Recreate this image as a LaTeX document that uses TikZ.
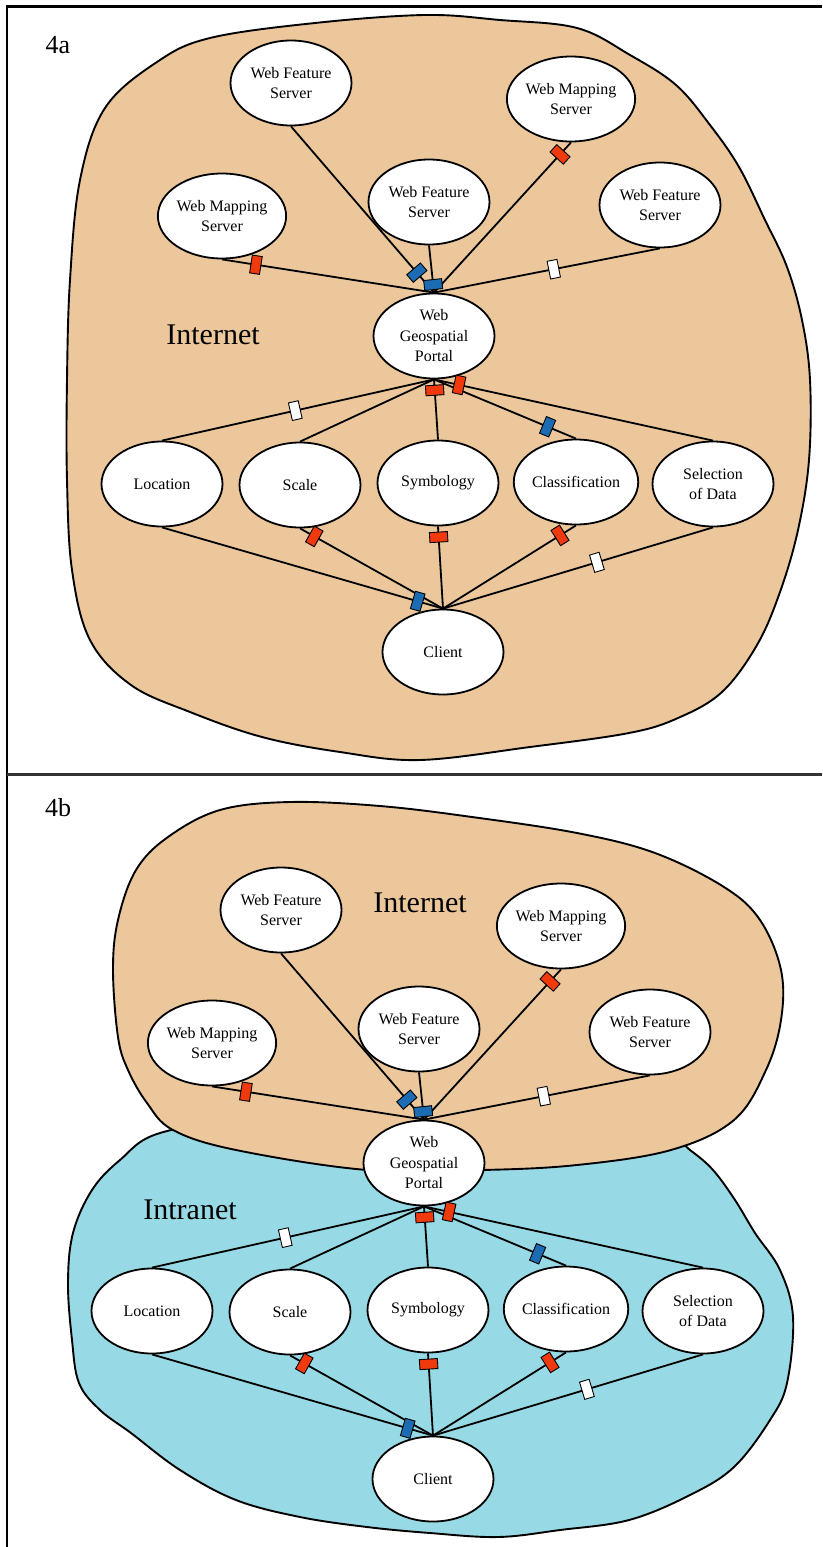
\documentclass[tikz,border=0pt]{standalone}
\usepackage{fontspec}
\setmainfont{Liberation Serif}
\usepackage{tikz}
\usetikzlibrary{shapes.geometric}

\definecolor{netorange}{RGB}{236,199,156}
\definecolor{lanblue}{RGB}{151,218,230}
\definecolor{tabred}{RGB}{240,58,14}
\definecolor{tabblue}{RGB}{28,108,180}

\begin{document}
\begin{tikzpicture}[x=1pt, y=-1pt,
    site/.style={ellipse, draw, line width=1.8pt, fill=white, inner sep=0pt,
      minimum width=121pt, minimum height=85pt, align=center,
      font=\fontsize{16}{20.5}\selectfont},
    cloud/.style={draw, line width=1.9pt},
    link/.style={line width=1.8pt},
    linkbox/.style={draw, line width=0.9pt, inner sep=0pt, sloped,
      minimum width=10pt, minimum height=18pt},
    redbox/.style={linkbox, fill=tabred},
    bluebox/.style={linkbox, fill=tabblue},
    whitebox/.style={linkbox, fill=white},
    zone/.style={font=\fontsize{30}{36}\selectfont},
    panel/.style={font=\fontsize{26}{30}\selectfont}]

    \useasboundingbox (0,0) rectangle (822,1547);

    % frame
    \draw[line width=3pt] (6,6) -- (822,6);
    \draw[line width=2.5pt] (7,6) -- (7,1547);
    \draw[line width=3pt, black!80] (7,774) -- (822,774);

    % 4a
    \draw[cloud, fill=netorange] plot[smooth cycle, tension=0.6] coordinates {
      (425,15) (500,20) (577,28) (630,55) (676,85) (710,125) (739,167)
      (765,220) (787,267) (802,320) (810,380) (809,460) (798,530) (780,592)
      (757,645) (722,692) (678,718) (629,733) (530,747) (420,760) (340,752)
      (262,737) (190,712) (131,685) (90,640) (72,570) (67,480) (67,380)
      (70,280) (80,180) (105,108) (157,62) (210,38) (315,23)};

    \node[panel] (labela) at (58,45) {4a};
    \node[zone] (neta) at (213,335) {Internet};

    \node[site] (wmsa1) at (222,216) {Web Mapping\\Server};
    \node[site] (wfsa1) at (291,83) {Web Feature\\Server};
    \node[site] (wfsa2) at (429,202) {Web Feature\\Server};
    \node[site] (wmsa2) at (571,99) {Web Mapping\\Server};
    \node[site] (wfsa3) at (660,205) {Web Feature\\Server};
    \node[site] (portala) at (434,336) {Web\\Geospatial\\Portal};
    \node[site] (loca) at (162,484) {Location};
    \node[site] (scalea) at (300,485) {Scale};
    \node[site] (symba) at (438,483) {Symbology};
    \node[site] (classa) at (576,482) {Classification};
    \node[site] (sela) at (713,484) {Selection\\of Data};
    \node[site] (clienta) at (443,652) {Client};

    \draw[link] (wmsa1.south) -- node[redbox, pos=0.16] {} (portala.north);
    \draw[link] (wmsa2.south) -- node[redbox, pos=0.08] {} (portala.north);
    \draw[link] (wfsa3.south) -- node[whitebox, pos=0.47] {} (portala.north);
    \draw[link] (wfsa1.south) -- node[bluebox, pos=0.88] {} (portala.north);
    \draw[link] (wfsa2.south) -- node[bluebox, pos=0.83] {} (portala.north);
    \draw[link] (portala.south) -- node[whitebox, pos=0.51] {} (loca.north);
    \draw[link] (portala.south) -- (scalea.north);
    \draw[link] (portala.south) -- node[bluebox, pos=0.80] {} (classa.north);
    \draw[link] (portala.south) -- node[redbox, pos=0.09] {} (sela.north);
    \draw[link] (portala.south) -- node[redbox, pos=0.18] {} (symba.north);
    \draw[link] (scalea.south) -- node[redbox, pos=0.10] {} (clienta.north);
    \draw[link] (symba.south) -- node[redbox, pos=0.13] {} (clienta.north);
    \draw[link] (classa.south) -- node[redbox, pos=0.12] {} (clienta.north);
    \draw[link] (sela.south) -- node[whitebox, pos=0.43] {} (clienta.north);
    \draw[link] (loca.south) -- node[bluebox, pos=0.91] {} (clienta.north);

    % 4b
    \draw[cloud, fill=lanblue] plot[smooth cycle, tension=0.6] coordinates {
      (160,1133) (120,1160) (92,1190) (73,1233) (68,1283) (72,1340)
      (79,1383) (100,1410) (131,1433) (180,1470) (236,1500) (300,1517)
      (367,1527) (430,1533) (498,1537) (560,1530) (629,1520) (690,1495)
      (734,1467) (770,1420) (787,1383) (793,1317) (780,1270) (755,1233)
      (735,1200) (713,1170) (690,1150) (660,1130) (560,1120) (420,1118)
      (260,1118)};
    \draw[cloud, fill=netorange] plot[smooth cycle, tension=0.6] coordinates {
      (290,802) (380,806) (472,817) (577,833) (655,853) (724,887) (760,920)
      (781,970) (781,1020) (766,1070) (734,1120) (671,1150) (577,1165)
      (482,1170) (367,1170) (236,1150) (173,1130) (147,1103) (128,1070)
      (118,1037) (113,970) (118,920) (136,870) (168,837) (220,810)};

    \node[panel] (labelb) at (58,808) {4b};
    \node[zone] (netb) at (420,903) {Internet};
    \node[zone] (lanb) at (190,1210) {Intranet};

    \begin{scope}[shift={(-10,827)}]

      \node[site] (wmsb1) at (222,216) {Web Mapping\\Server};
      \node[site] (wfsb1) at (291,83) {Web Feature\\Server};
      \node[site] (wfsb2) at (429,202) {Web Feature\\Server};
      \node[site] (wmsb2) at (571,99) {Web Mapping\\Server};
      \node[site] (wfsb3) at (660,205) {Web Feature\\Server};
      \node[site] (portalb) at (434,336) {Web\\Geospatial\\Portal};
      \node[site] (locb) at (162,484) {Location};
      \node[site] (scaleb) at (300,485) {Scale};
      \node[site] (symbb) at (438,483) {Symbology};
      \node[site] (classb) at (576,482) {Classification};
      \node[site] (selb) at (713,484) {Selection\\of Data};
      \node[site] (clientb) at (443,652) {Client};

      \draw[link] (wmsb1.south) -- node[redbox, pos=0.16] {} (portalb.north);
      \draw[link] (wmsb2.south) -- node[redbox, pos=0.08] {} (portalb.north);
      \draw[link] (wfsb3.south) -- node[whitebox, pos=0.47] {} (portalb.north);
      \draw[link] (wfsb1.south) -- node[bluebox, pos=0.88] {} (portalb.north);
      \draw[link] (wfsb2.south) -- node[bluebox, pos=0.83] {} (portalb.north);
      \draw[link] (portalb.south) -- node[whitebox, pos=0.51] {} (locb.north);
      \draw[link] (portalb.south) -- (scaleb.north);
      \draw[link] (portalb.south) -- node[bluebox, pos=0.80] {} (classb.north);
      \draw[link] (portalb.south) -- node[redbox, pos=0.09] {} (selb.north);
      \draw[link] (portalb.south) -- node[redbox, pos=0.18] {} (symbb.north);
      \draw[link] (scaleb.south) -- node[redbox, pos=0.10] {} (clientb.north);
      \draw[link] (symbb.south) -- node[redbox, pos=0.13] {} (clientb.north);
      \draw[link] (classb.south) -- node[redbox, pos=0.12] {} (clientb.north);
      \draw[link] (selb.south) -- node[whitebox, pos=0.43] {} (clientb.north);
      \draw[link] (locb.south) -- node[bluebox, pos=0.91] {} (clientb.north);

    \end{scope}

  \end{tikzpicture}
\end{document}
